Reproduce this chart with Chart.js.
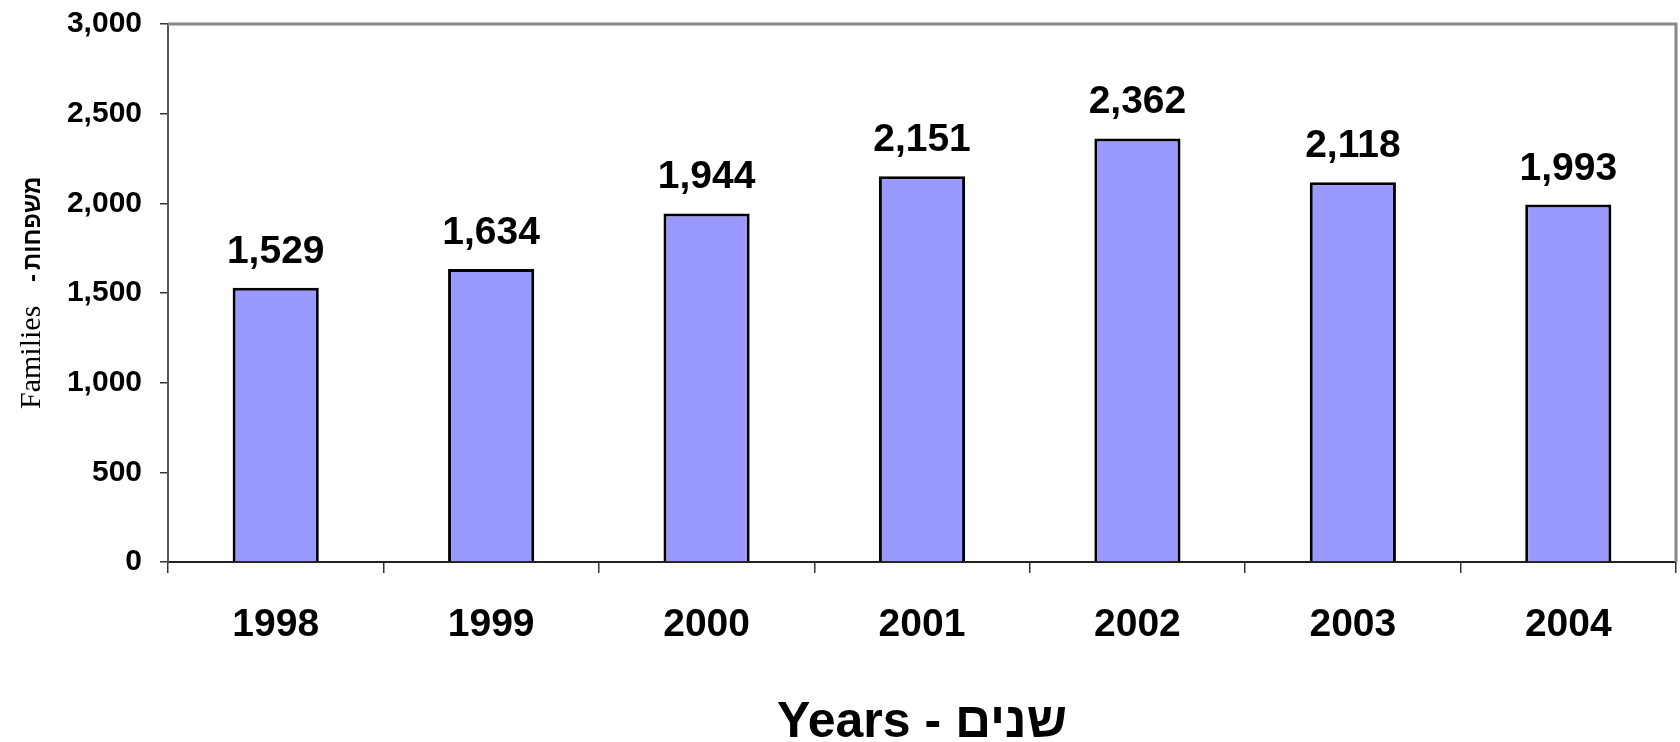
<!DOCTYPE html>
<html>
<head>
<meta charset="utf-8">
<script src="https://cdn.jsdelivr.net/npm/chart.js@4.4.1/dist/chart.umd.min.js"></script>
<style>
  html, body { margin: 0; padding: 0; background: #fff; }
  #caixa { width: 1680px; height: 742px; }
</style>
</head>
<body>
<div id="caixa"><canvas id="grafico"></canvas></div>
<script>
// dados do gráfico
const anos = ['1998', '1999', '2000', '2001', '2002', '2003', '2004'];
const familias = [1529, 1634, 1944, 2151, 2362, 2118, 1993];
const ticksY = [0, 500, 1000, 1500, 2000, 2500, 3000];
const tituloX = 'Years - שנים';
const tituloYLatim = 'Families';
const tituloYHebraico = 'משפחות';

const sans = '"Liberation Sans", Arial, sans-serif';
const serif = '"Liberation Serif", "Times New Roman", serif';

const formatar = v => v.toLocaleString('en-US');

// moldura cinza (topo e direita) + títulos + rótulos das barras
const extras = {
  id: 'extras',
  beforeDatasetsDraw(chart) {
    const { ctx, chartArea: a } = chart;
    ctx.save();
    ctx.strokeStyle = '#888';
    ctx.lineWidth = 3;
    ctx.beginPath();
    ctx.moveTo(a.left, a.top);
    ctx.lineTo(a.right, a.top);
    ctx.lineTo(a.right, a.bottom);
    ctx.stroke();
    ctx.restore();
  },
  afterDraw(chart) {
    const { ctx, chartArea: a } = chart;
    ctx.save();
    ctx.fillStyle = '#000';

    // valores em cima das barras
    ctx.font = 'bold 39px ' + sans;
    ctx.textAlign = 'center';
    ctx.textBaseline = 'alphabetic';
    chart.getDatasetMeta(0).data.forEach((bar, i) => {
      ctx.fillText(formatar(familias[i]), bar.x, bar.y - 25);
    });

    // título X
    ctx.font = 'bold 50px ' + sans;
    ctx.fillText(tituloX, (a.left + a.right) / 2, 737);

    // título Y (duas fontes)
    ctx.translate(40, 409);
    ctx.rotate(-Math.PI / 2);
    ctx.textAlign = 'left';
    ctx.font = '30px ' + serif;
    ctx.fillText(tituloYLatim, 0, 0);
    ctx.font = 'bold 24px ' + sans;
    ctx.fillText('-', 127, 0);
    ctx.fillText(tituloYHebraico, 139, 0);
    ctx.restore();
  }
};

const config = {
  type: 'bar',
  data: {
    labels: anos,
    datasets: [{
      data: familias,
      backgroundColor: '#9999FF',
      borderColor: '#000',
      borderWidth: 3,
      borderSkipped: 'start',
      barPercentage: 0.4,
      categoryPercentage: 1
    }]
  },
  options: {
    responsive: true,
    maintainAspectRatio: false,
    animation: false,
    layout: { padding: { top: 24, right: 4, left: 0, bottom: 0 } },
    plugins: {
      legend: { display: false },
      tooltip: { enabled: false }
    },
    scales: {
      x: {
        afterFit: s => { s.height = 180; s.paddingLeft = 0; s.paddingRight = 0; },
        grid: { drawOnChartArea: false, tickLength: 11, color: '#333', lineWidth: 1.5, offset: true },
        border: { color: '#222', width: 2 },
        ticks: { color: '#000', padding: 29, font: { family: sans, size: 39, weight: 'bold' } }
      },
      y: {
        min: 0,
        max: 3000,
        afterFit: s => { s.width = 168; s.paddingTop = 0; s.paddingBottom = 0; },
        afterBuildTicks: s => { s.ticks = ticksY.map(v => ({ value: v })); },
        grid: { drawOnChartArea: false, tickLength: 8, color: '#333', lineWidth: 1.5 },
        border: { color: '#555', width: 2 },
        ticks: { color: '#000', padding: 18, callback: v => formatar(v), font: { family: sans, size: 30, weight: 'bold' } }
      }
    }
  },
  plugins: [extras]
};

const grafico = new Chart(document.getElementById('grafico'), config);
</script>
</body>
</html>
